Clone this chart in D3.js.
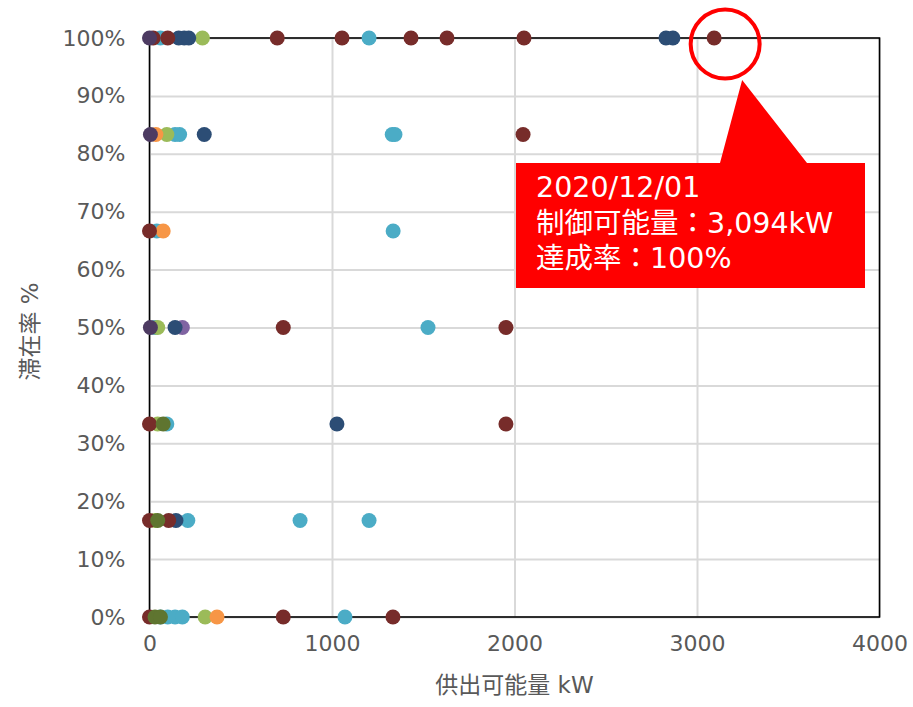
<!DOCTYPE html>
<html>
<head>
<meta charset="utf-8">
<script src="https://cdn.jsdelivr.net/npm/d3@7"></script>
<style>
  body { margin: 0; background: #fff; }
  text { font-family: "DejaVu Sans", "Noto Sans CJK JP", sans-serif; }
</style>
</head>
<body>
<script>
// each series: [供出可能量 kW, 滞在率]
var darkPurple = [[0, 1], [5, 5 / 6], [5, 0.5]];
var purple = [[180, 0.5]];
var aqua = [
  [60, 1], [1203, 1],
  [140, 5 / 6], [165, 5 / 6], [1330, 5 / 6], [1345, 5 / 6],
  [40, 2 / 3], [1335, 2 / 3],
  [30, 0.5], [1526, 0.5],
  [95, 1 / 3],
  [210, 1 / 6], [825, 1 / 6], [1203, 1 / 6],
  [60, 0], [100, 0], [140, 0], [180, 0], [1071, 0]
];
var green = [[290, 1], [95, 5 / 6], [45, 0.5], [45, 1 / 3], [30, 1 / 6], [305, 0]];
var orange = [[35, 5 / 6], [75, 2 / 3], [370, 0]];
var darkBlue = [[160, 1], [190, 1], [215, 1], [2830, 1], [2868, 1], [300, 5 / 6], [140, 0.5], [1027, 1 / 3], [145, 1 / 6]];
var darkRed = [
  [20, 1], [100, 1], [700, 1], [1055, 1], [1433, 1], [1630, 1], [2052, 1], [3094, 1],
  [2047, 5 / 6],
  [0, 2 / 3],
  [733, 0.5], [1953, 0.5],
  [0, 1 / 3], [1953, 1 / 3],
  [0, 1 / 6], [105, 1 / 6],
  [0, 0], [733, 0], [1334, 0]
];
var darkGreen = [[75, 1 / 3], [45, 1 / 6], [30, 0], [60, 0]];

var xTicks = [0, 1000, 2000, 3000, 4000];
var yTicks = [0, 0.1, 0.2, 0.3, 0.4, 0.5, 0.6, 0.7, 0.8, 0.9, 1];

var callout = { date: "2020/12/01", kw: 3094, rate: 1 };

// drawing order, bottom first
var series = [purple, aqua, green, orange, darkBlue, darkRed, darkGreen, darkPurple];
var colors = ["#8064a2", "#4bacc6", "#9bbb59", "#f79646", "#2c4d75", "#772c2a", "#5f7530", "#4d3b62"];

var width = 913, height = 707;
var pLeft = 149.5, pRight = 879.5, pTop = 38, pBottom = 617;

var svg = d3.select("body").append("svg")
  .attr("width", width)
  .attr("height", height);

var x = d3.scaleLinear().domain([0, 4000]).range([pLeft, pRight]);
var y = d3.scaleLinear().domain([0, 1]).range([pBottom, pTop]);

// grid
svg.append("g")
  .attr("transform", "translate(0," + pBottom + ")")
  .call(d3.axisBottom(x).tickValues(xTicks).tickSize(-(pBottom - pTop)).tickFormat(""))
  .call(function (g) { g.select(".domain").remove(); })
  .selectAll("line").attr("stroke", "#d9d9d9").attr("stroke-width", 2);

svg.append("g")
  .attr("transform", "translate(" + pLeft + ",0)")
  .call(d3.axisLeft(y).tickValues(yTicks).tickSize(-(pRight - pLeft)).tickFormat(""))
  .call(function (g) { g.select(".domain").remove(); })
  .selectAll("line").attr("stroke", "#d9d9d9").attr("stroke-width", 2);

// frame
svg.append("rect")
  .attr("x", pLeft).attr("y", pTop)
  .attr("width", pRight - pLeft).attr("height", pBottom - pTop)
  .attr("fill", "none").attr("stroke", "#000").attr("stroke-width", 1.6);

// tick labels
var xAxis = svg.append("g")
  .attr("transform", "translate(0," + pBottom + ")")
  .call(d3.axisBottom(x).tickValues(xTicks).tickSize(0).tickPadding(18).tickFormat(d3.format("d")));
xAxis.select(".domain").remove();
xAxis.selectAll("text").attr("font-size", 22).attr("fill", "#595959")
  .style("font-family", "'DejaVu Sans', sans-serif");

var yAxis = svg.append("g")
  .attr("transform", "translate(" + pLeft + ",0)")
  .call(d3.axisLeft(y).tickValues(yTicks).tickSize(0).tickPadding(24).tickFormat(d3.format(".0%")));
yAxis.select(".domain").remove();
yAxis.selectAll("text").attr("font-size", 22).attr("fill", "#595959")
  .style("font-family", "'DejaVu Sans', sans-serif");

// axis titles
svg.append("text")
  .attr("x", (pLeft + pRight) / 2).attr("y", 693)
  .attr("text-anchor", "middle")
  .attr("font-size", 23).attr("fill", "#595959")
  .text("供出可能量 kW");

svg.append("text")
  .attr("transform", "translate(38," + ((pTop + pBottom) / 2 + 4) + ") rotate(-90)")
  .attr("text-anchor", "middle")
  .attr("font-size", 23).attr("fill", "#595959")
  .text("滞在率 %");

// points
series.forEach(function (pts, i) {
  svg.append("g").selectAll("circle")
    .data(pts)
    .enter()
    .append("circle")
    .attr("cx", function (d) { return x(d[0]); })
    .attr("cy", function (d) { return y(d[1]); })
    .attr("r", 7.5)
    .attr("fill", colors[i]);
});

// callout
var cx = x(callout.kw) + 11, cy = y(callout.rate) + 6;
svg.append("circle")
  .attr("cx", cx).attr("cy", cy).attr("r", 34.5)
  .attr("fill", "none").attr("stroke", "#ff0000").attr("stroke-width", 4);

svg.append("path")
  .attr("d", "M516,163 L720,163 L" + (cx + 17) + ",80 L807,163 L865,163 L865,288 L516,288 Z")
  .attr("fill", "#ff0000");

var lines = [callout.date, "制御可能量：" + d3.format(",")(callout.kw) + "kW", "達成率：" + d3.format(".0%")(callout.rate)];
svg.append("g").selectAll("text")
  .data(lines)
  .enter()
  .append("text")
  .attr("x", 536)
  .attr("y", function (d, i) { return 197 + i * 35.5; })
  .attr("font-size", 28.5)
  .attr("fill", "#fff")
  .text(function (d) { return d; });
</script>
</body>
</html>
